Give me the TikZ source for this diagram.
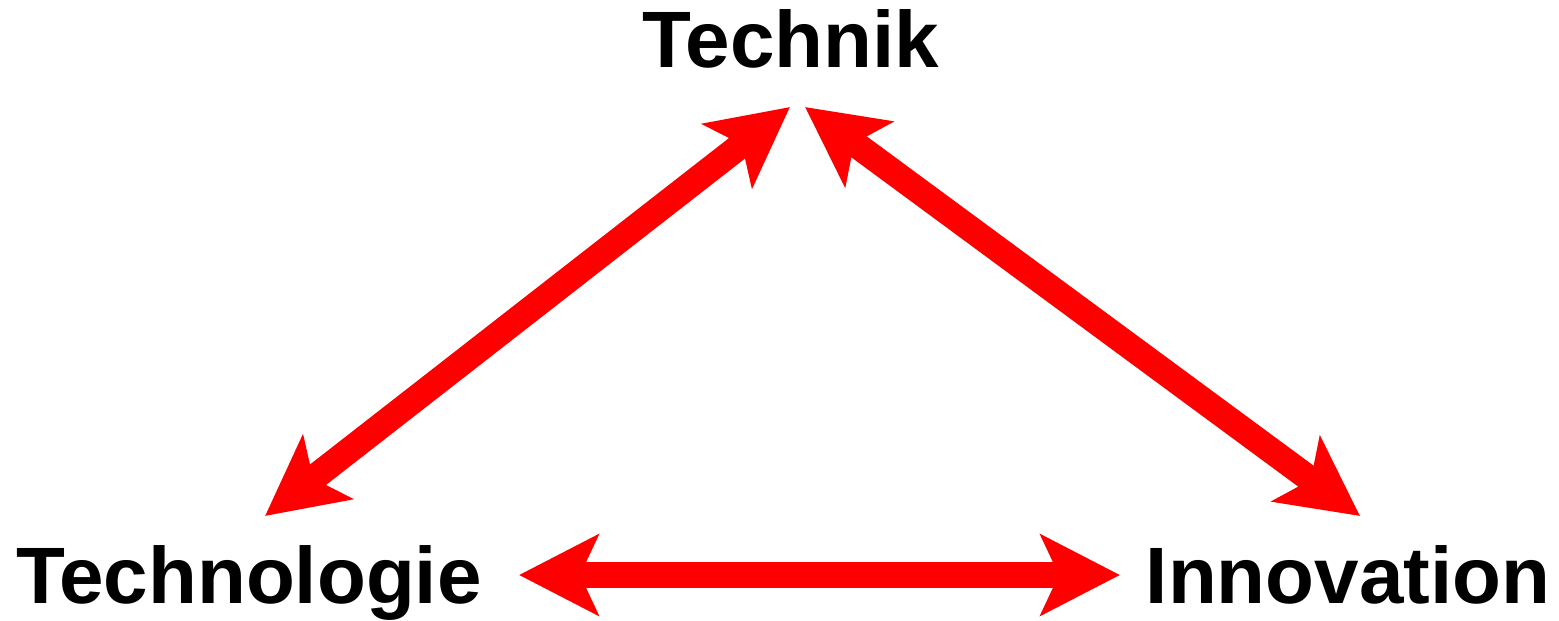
\documentclass[tikz,border=0pt]{standalone}
\usepackage{fontspec}
\setmainfont{Liberation Sans}
\usetikzlibrary{arrows.meta}
\definecolor{arrred}{RGB}{255,0,0}
\tikzset{
  lbl/.style={font=\bfseries\fontsize{40}{48}\selectfont, anchor=base, inner sep=0pt},
  dbl/.style={draw=arrred, line width=13pt,
    {Stealth[length=39.5pt, width=40pt, inset=9pt]}-{Stealth[length=39.5pt, width=40pt, inset=9pt]}}
}
\begin{document}
\begin{tikzpicture}[x=0.5pt,y=-0.5pt]
\useasboundingbox (0,0) rectangle (1559,621);
\node[lbl] (technik) at (791,68) {Technik};
\node[lbl] (technologie) at (249,603) {Technologie};
\node[lbl] (innovation) at (1348,603) {Innovation};
\coordinate (tl) at (265,516);
\coordinate (tr) at (790,107);
\coordinate (ul) at (805,107);
\coordinate (ur) at (1360,516);
\coordinate (bl) at (519,575);
\coordinate (br) at (1120,575);
\draw[dbl] (tl) -- (tr);
\draw[dbl] (ul) -- (ur);
\draw[dbl] (bl) -- (br);
\end{tikzpicture}
\end{document}
